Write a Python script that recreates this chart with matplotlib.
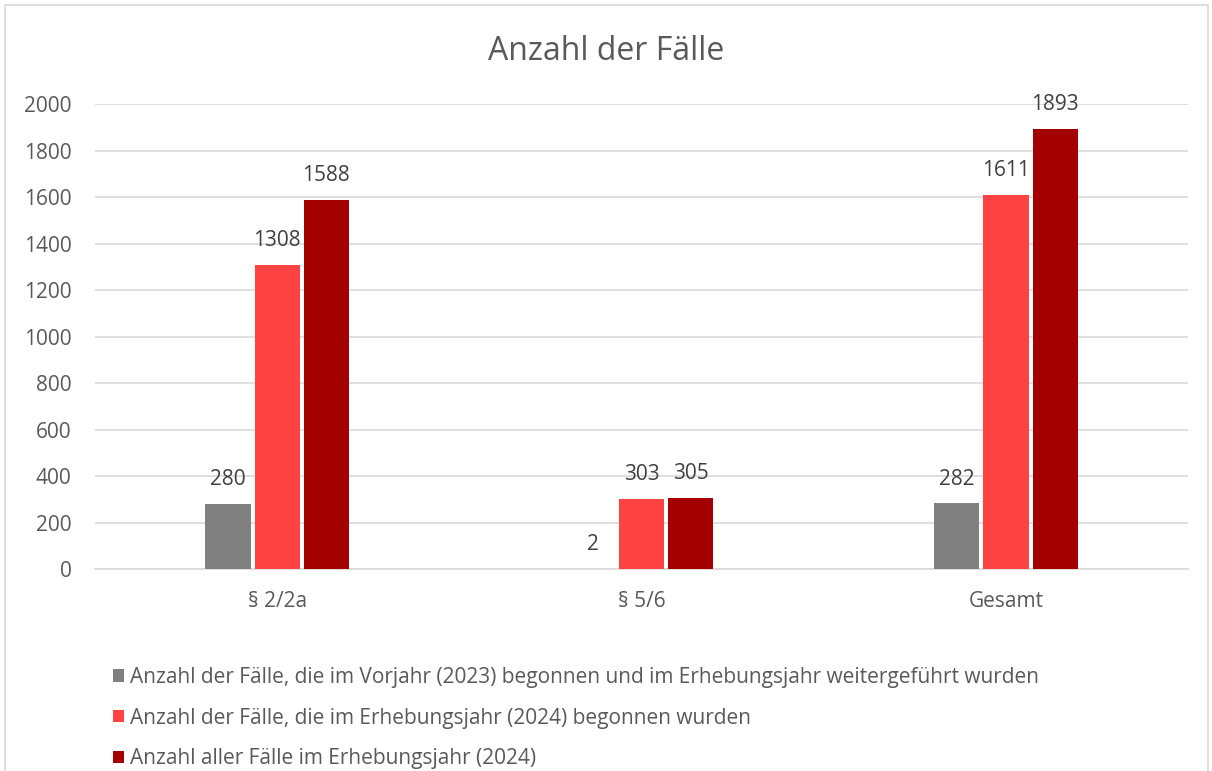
import numpy as np
import matplotlib.pyplot as plt
from matplotlib.patches import Rectangle

plt.rcParams['font.family'] = ['Open Sans', 'DejaVu Sans']

categories = ['§ 2/2a', '§ 5/6', 'Gesamt']
series_names = [
    'Anzahl der Fälle, die im Vorjahr (2023) begonnen und im Erhebungsjahr weitergeführt wurden',
    'Anzahl der Fälle, die im Erhebungsjahr (2024) begonnen wurden',
    'Anzahl aller Fälle im Erhebungsjahr (2024)',
]
vorjahr = [280, 2, 282]
begonnen = [1308, 303, 1611]
alle = [1588, 305, 1893]
colors = ['#808080', '#FF4343', '#A50000']
text_color = '#595959'

fig = plt.figure(figsize=(12.12, 7.71), dpi=100)
ax = fig.add_axes([0.0784, 0.262, 0.902, 0.603])

x = np.arange(len(categories))
width = 0.124
step = 0.135
handles = []
for i, (vals, c, name) in enumerate(zip([vorjahr, begonnen, alle], colors, series_names)):
    bars = ax.bar(x + (i - 1) * step, vals, width, color=c, label=name, zorder=3)
    handles.append(bars)
    for b, v in zip(bars, vals):
        ax.annotate(str(v), (b.get_x() + b.get_width() / 2, v), xytext=(0, 10),
                    textcoords='offset points', ha='center', va='bottom',
                    fontsize=15, color='#404040')

ax.set_xlim(-0.5, 2.5)
ax.set_ylim(0, 2000)
ax.set_yticks(range(0, 2001, 200))
ax.grid(axis='y', color='#d9d9d9', linewidth=1.2, zorder=0)
for s in ['top', 'right', 'left']:
    ax.spines[s].set_visible(False)
ax.spines['bottom'].set_color('#d9d9d9')
ax.spines['bottom'].set_linewidth(1.2)
ax.tick_params(length=0, labelsize=15, colors=text_color)
ax.tick_params(axis='x', pad=16)
ax.tick_params(axis='y', pad=17)
ax.set_xticks(x)
ax.set_xticklabels(categories)

fig.text(0.5, 0.933, 'Anzahl der Fälle', ha='center', va='center',
         fontsize=23, color=text_color)

leg = fig.legend(handles=handles, loc='upper left', bbox_to_anchor=(0.086, 0.146),
                 frameon=False, fontsize=15, labelcolor=text_color,
                 handlelength=0.55, handleheight=0.55, handletextpad=0.3,
                 labelspacing=0.95, borderaxespad=0)

fig.patches.append(Rectangle((5 / 1212, -0.1), 1203 / 1212, 1.1 - 5 / 771,
                             transform=fig.transFigure, fill=False,
                             edgecolor='#d9d9d9', linewidth=1.2))

fig.savefig('out.png', dpi=100)
